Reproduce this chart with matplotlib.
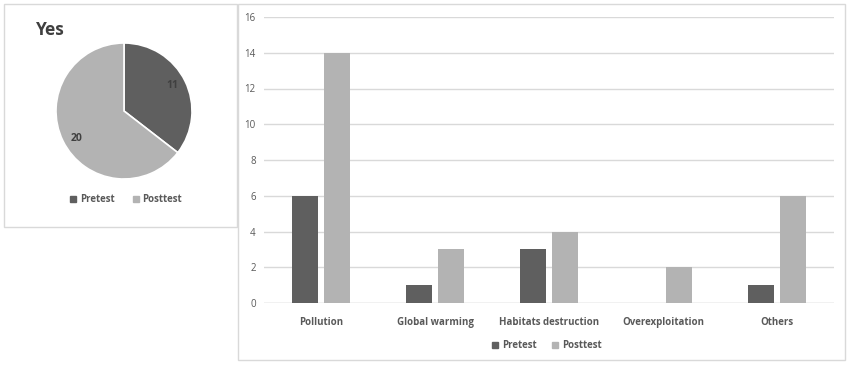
import matplotlib
matplotlib.use("Agg")
import matplotlib.pyplot as plt
from matplotlib.patches import Rectangle, Patch
import numpy as np

plt.rcParams['font.family'] = ['Open Sans', 'DejaVu Sans']

# data
pie_labels = ["Pretest", "Posttest"]
pie_values = [11, 20]
categories = ["Pollution", "Global warming", "Habitats destruction", "Overexploitation", "Others"]
pretest = [6, 1, 3, 0, 1]
posttest = [14, 3, 4, 2, 6]
yticks = [0, 2, 4, 6, 8, 10, 12, 14, 16]

DARK = "#5f5f5f"
LIGHT = "#b3b3b3"
TXT = "#595959"
W, H = 850, 365

fig = plt.figure(figsize=(8.5, 3.65), dpi=100)
fig.patch.set_facecolor("white")

def box(x0, y0, x1, y1):
    fig.add_artist(Rectangle((x0 / W, 1 - y1 / H), (x1 - x0) / W, (y1 - y0) / H,
                             transform=fig.transFigure, fill=False,
                             edgecolor="#d9d9d9", linewidth=1.0))

box(4, 4, 237, 227)
box(238, 4, 845, 360)

# pie
cx, cy, r = 124, 111, 68
axp = fig.add_axes([(cx - r) / W, 1 - (cy + r) / H, 2 * r / W, 2 * r / H])
wedges, texts = axp.pie(pie_values, colors=[DARK, LIGHT], startangle=90, counterclock=False,
                        wedgeprops=dict(edgecolor="white", linewidth=1.2))
axp.set_xlim(-1, 1)
axp.set_ylim(-1, 1)
axp.set_aspect("auto")
axp.axis("off")
tot = sum(pie_values)
start = 90.0
for i, v in enumerate(pie_values):
    span = v / tot * 360
    mid = np.deg2rad(start - span / 2 + (2 if i == 0 else 4))
    rr = 0.8
    axp.text(rr * np.cos(mid), rr * np.sin(mid), str(v),
             ha="center", va="center", fontsize=7.5, fontweight="bold", color="#404040")
    start -= span

fig.text(36 / W, 1 - 30 / H, "Yes", fontsize=12.5, fontweight="bold", color="#404040",
         ha="left", va="center")
fig.legend(handles=[Patch(color=DARK, label=pie_labels[0]), Patch(color=LIGHT, label=pie_labels[1])],
           loc="center", bbox_to_anchor=(126 / W, 1 - 200 / H), ncol=2, frameon=False,
           handlelength=0.6, handleheight=0.6, handletextpad=0.4, columnspacing=1.9,
           prop=dict(weight="bold", size=7), labelcolor=TXT)

# bars
left, right, top, bottom = 264, 834, 17, 303
ax = fig.add_axes([left / W, 1 - bottom / H, (right - left) / W, (bottom - top) / H])
x = np.arange(len(categories))
bw = 0.224
off = 0.142
ax.bar(x - off, pretest, bw, color=DARK, label="Pretest", zorder=3)
ax.bar(x + off, posttest, bw, color=LIGHT, label="Posttest", zorder=3)
ax.set_xlim(-0.5, len(categories) - 0.5)
ax.set_ylim(0, 16)
ax.set_yticks(yticks)
ax.set_yticklabels([str(t) for t in yticks])
ax.set_xticks(x)
ax.set_xticklabels(categories, fontweight="bold")
ax.grid(axis="y", color="#d9d9d9", linewidth=1.0, zorder=0)
for s in ax.spines.values():
    s.set_visible(False)
ax.tick_params(axis="both", length=0, labelsize=7, colors=TXT)
ax.tick_params(axis="x", pad=10)
ax.tick_params(axis="y", pad=6)
ax.axhline(0, color="#d9d9d9", linewidth=1.0, zorder=2)
fig.legend(handles=[Patch(color=DARK, label="Pretest"), Patch(color=LIGHT, label="Posttest")],
           loc="center", bbox_to_anchor=(547 / W, 1 - 346 / H), ncol=2, frameon=False,
           handlelength=0.6, handleheight=0.6, handletextpad=0.4, columnspacing=1.6,
           prop=dict(weight="bold", size=7), labelcolor=TXT)

fig.savefig("out.png", dpi=100, facecolor="white")
